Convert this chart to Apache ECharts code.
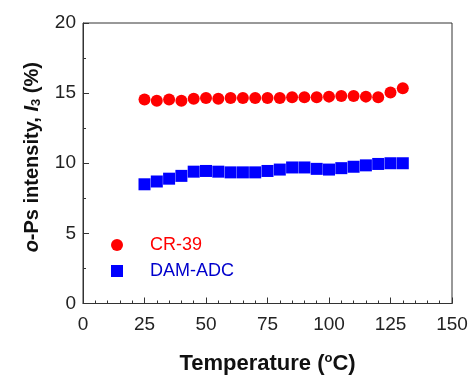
<!DOCTYPE html>
<html><head><meta charset="utf-8">
<script src="https://cdn.jsdelivr.net/npm/echarts@6/dist/echarts.min.js"></script>
<style>html,body{margin:0;padding:0;background:#fff}#c{width:473px;height:380px}</style>
</head><body><div id="c"></div>
<script>
const temps = [25,30,35,40,45,50,55,60,65,70,75,80,85,90,95,100,105,110,115,120,125,130];
const cr39 = [14.55,14.45,14.55,14.45,14.6,14.65,14.6,14.65,14.65,14.65,14.65,14.65,14.7,14.7,14.7,14.75,14.8,14.8,14.75,14.7,15.05,15.35];
const damAdc = [8.5,8.7,8.9,9.1,9.4,9.45,9.4,9.35,9.35,9.35,9.45,9.55,9.7,9.7,9.6,9.55,9.65,9.75,9.85,9.95,10.0,10.0];
const seriesNames = ['CR-39','DAM-ADC'];

const font = '"Liberation Sans", Arial, sans-serif';
const chart = echarts.init(document.getElementById('c'));
chart.setOption({
  animation:false,
  backgroundColor:'#fff',
  grid:{left:83,right:21,top:23,bottom:73,show:true,borderColor:'#333',borderWidth:1},
  legend:{
    orient:'vertical',left:106,top:231,itemGap:8,itemWidth:56,itemHeight:12,
    textStyle:{fontFamily:font,fontSize:18},
    data:[
      {name:seriesNames[0],icon:'circle',textStyle:{color:'#ff0000'}},
      {name:seriesNames[1],icon:'path://M0,0L10,0L10,10L0,10Z',textStyle:{color:'#0000cc'}}
    ]
  },
  xAxis:{
    type:'value',min:0,max:150,interval:25,
    axisLine:{lineStyle:{color:'#333'}},
    axisTick:{inside:true,length:6,lineStyle:{color:'#333'}},
    minorTick:{show:true,splitNumber:5,length:3,lineStyle:{color:'#333'}},
    splitLine:{show:false},
    axisLabel:{color:'#222',fontFamily:font,fontSize:19,margin:12},
    name:'{b|Temperature (}{sup|o}{b|C)}',nameLocation:'middle',nameGap:48,
    nameTextStyle:{rich:{
      b:{fontFamily:font,fontSize:22,fontWeight:'bold',color:'#111'},
      sup:{fontFamily:font,fontSize:13,fontWeight:'bold',color:'#111',padding:[0,0,12,0]}
    }}
  },
  yAxis:{
    type:'value',min:0,max:20,interval:5,
    axisLine:{lineStyle:{color:'#333'}},
    axisTick:{inside:true,length:6,lineStyle:{color:'#333'}},
    minorTick:{show:true,splitNumber:2,length:3,lineStyle:{color:'#333'}},
    splitLine:{show:false},
    axisLabel:{color:'#222',fontFamily:font,fontSize:19,margin:7},
    name:'{i|o}{b|-Ps intensity, }{i|I}{sub|3}{b| (%)}',nameLocation:'middle',nameGap:40,nameRotate:90,
    nameTextStyle:{padding:[0,0,0,12],rich:{
      b:{fontFamily:font,fontSize:20,fontWeight:'bold',color:'#111'},
      i:{fontFamily:font,fontSize:20,fontWeight:'bold',fontStyle:'italic',color:'#111'},
      sub:{fontFamily:font,fontSize:13,fontWeight:'bold',color:'#111',padding:[9,0,0,0]}
    }}
  },
  series:[
    {name:seriesNames[0],type:'scatter',symbol:'circle',symbolSize:12,itemStyle:{color:'#ff0000',opacity:1},
     data:temps.map((t,i)=>[t,cr39[i]])},
    {name:seriesNames[1],type:'scatter',symbol:'rect',symbolSize:12,itemStyle:{color:'#0000ff',opacity:1},
     data:temps.map((t,i)=>[t,damAdc[i]])}
  ]
});
</script></body></html>
